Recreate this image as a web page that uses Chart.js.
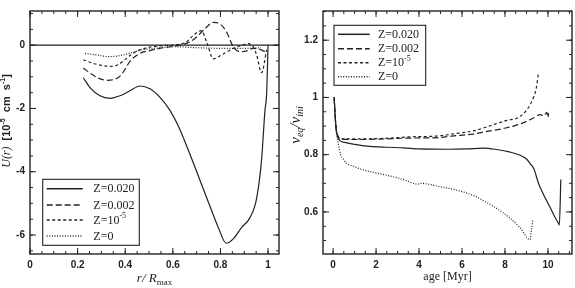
<!DOCTYPE html>
<html>
<head>
<meta charset="utf-8">
<script src="https://cdn.jsdelivr.net/npm/chart.js@4.4.0/dist/chart.umd.min.js"></script>
<style>
  html, body { margin: 0; padding: 0; background: #fff; }
  #wrap { position: relative; width: 575px; height: 288px; }
  .pane { position: absolute; top: 0; height: 288px; }
  #leftPane { left: 0; width: 287px; }
  #rightPane { left: 287px; width: 288px; }
</style>
</head>
<body>
<div id="wrap">
  <div class="pane" id="leftPane"><canvas id="leftChart"></canvas></div>
  <div class="pane" id="rightPane"><canvas id="rightChart"></canvas></div>
</div>
<script>
// ---- left panel: U(r) vs r/Rmax ----
const rZ020 = [0.224, 0.252, 0.294, 0.336, 0.378, 0.42, 0.462, 0.504, 0.546, 0.588, 0.63, 0.672, 0.714, 0.756, 0.791, 0.824, 0.854, 0.889, 0.924, 0.952, 0.973, 0.987, 0.994, 1.0];
const uZ020 = [-1.03, -1.34, -1.60, -1.68, -1.60, -1.44, -1.29, -1.38, -1.65, -2.06, -2.67, -3.45, -4.27, -5.09, -5.76, -6.26, -6.12, -5.76, -5.45, -4.84, -3.6, -2.06, -1.54, 0];

const rZ002 = [0.224, 0.26, 0.29, 0.322, 0.35, 0.378, 0.40, 0.42, 0.462, 0.504, 0.546, 0.59, 0.63, 0.67, 0.70, 0.735, 0.77, 0.80, 0.826, 0.854, 0.882, 0.91, 0.938, 0.96, 0.987];
const uZ002 = [-0.72, -0.92, -1.05, -1.11, -1.09, -0.98, -0.75, -0.51, -0.26, -0.17, -0.10, -0.05, 0.0, 0.10, 0.26, 0.52, 0.72, 0.66, 0.41, -0.05, -0.21, -0.18, -0.10, -0.12, -0.2];

const rZ1e5 = [0.224, 0.26, 0.30, 0.336, 0.37, 0.406, 0.43, 0.462, 0.504, 0.546, 0.59, 0.63, 0.66, 0.686, 0.72, 0.742, 0.77, 0.805, 0.854, 0.89, 0.917, 0.94, 0.952, 0.973, 0.994];
const uZ1e5 = [-0.46, -0.56, -0.64, -0.67, -0.62, -0.41, -0.27, -0.15, -0.06, -0.02, 0.0, 0.03, 0.12, 0.31, 0.46, 0.10, -0.43, -0.31, -0.10, 0.0, 0.05, -0.08, -0.31, -0.87, -0.15];

const rZ0 = [0.231, 0.28, 0.329, 0.37, 0.40, 0.435, 0.469, 0.52, 0.56, 0.609, 0.70, 0.80, 0.90, 0.97];
const uZ0 = [-0.26, -0.31, -0.36, -0.34, -0.29, -0.22, -0.15, -0.10, -0.07, -0.05, -0.08, -0.10, -0.10, -0.08];

// ---- right panel: v_eq/v_ini vs age ----
const ageZ020 = [0.05, 0.1, 0.16, 0.23, 0.31, 0.6, 1.0, 1.71, 2.5, 3.27, 4.04, 5.36, 6.2, 7.0, 7.62, 8.2, 8.71, 9.0, 9.17, 9.35, 9.56, 9.8, 10.1, 10.3, 10.49, 10.53, 10.6];
const vZ020 = [1.0, 0.93, 0.88, 0.86, 0.849, 0.842, 0.836, 0.829, 0.826, 0.824, 0.82, 0.819, 0.82, 0.823, 0.818, 0.81, 0.798, 0.785, 0.769, 0.75, 0.70, 0.66, 0.616, 0.585, 0.56, 0.554, 0.713];

const ageZ002 = [0.05, 0.1, 0.16, 0.23, 0.31, 1.0, 2.41, 3.5, 4.98, 5.52, 6.53, 7.07, 8.09, 8.6, 9.02, 9.3, 9.64, 9.8, 9.95, 10.0, 10.03];
const vZ002 = [1.0, 0.93, 0.88, 0.865, 0.855, 0.853, 0.855, 0.858, 0.86, 0.865, 0.872, 0.88, 0.894, 0.905, 0.917, 0.927, 0.94, 0.935, 0.948, 0.93, 0.945];

const ageZ1e5 = [0.05, 0.1, 0.16, 0.23, 0.31, 1.0, 2.41, 3.5, 4.98, 5.52, 6.53, 7.07, 8.09, 8.63, 9.02, 9.33, 9.45, 9.56];
const vZ1e5 = [1.0, 0.93, 0.88, 0.865, 0.855, 0.855, 0.857, 0.862, 0.866, 0.872, 0.883, 0.895, 0.92, 0.93, 0.957, 1.0, 1.03, 1.085];

const ageZ0 = [0.05, 0.1, 0.16, 0.23, 0.35, 0.47, 0.62, 0.86, 1.2, 1.71, 2.5, 3.2, 3.96, 4.04, 5.0, 5.91, 6.6, 7.15, 7.7, 8.24, 8.7, 9.17, 9.22, 9.3];
const vZ0 = [1.0, 0.93, 0.87, 0.843, 0.80, 0.785, 0.77, 0.762, 0.752, 0.741, 0.728, 0.715, 0.697, 0.70, 0.688, 0.673, 0.655, 0.633, 0.608, 0.578, 0.545, 0.503, 0.53, 0.574];

const seriesLabels = ['Z=0.020', 'Z=0.002', 'Z=10^{-5}', 'Z=0'];

const ink = '#222';
const styles = [
  { borderDash: [] },
  { borderDash: [6, 3] },
  { borderDash: [3, 2.5] },
  { borderDash: [1, 1.6] }
];

function pts(xs, ys) { return xs.map((x, i) => ({ x: x, y: ys[i] })); }

function makeSets(pairs) {
  return pairs.map((p, i) => ({
    label: seriesLabels[i],
    data: pts(p[0], p[1]),
    borderColor: ink,
    borderWidth: 1.2,
    borderDash: styles[i].borderDash,
    pointRadius: 0,
    fill: false,
    showLine: true,
    cubicInterpolationMode: 'monotone'
  }));
}

// tiny rich text: ^{..} superscript, _{..} subscript
function parseRich(str) {
  const out = [];
  const re = /([\^_])\{([^}]*)\}/g;
  let last = 0, m;
  while ((m = re.exec(str))) {
    if (m.index > last) out.push({ t: str.slice(last, m.index), mode: '' });
    out.push({ t: m[2], mode: m[1] });
    last = re.lastIndex;
  }
  if (last < str.length) out.push({ t: str.slice(last), mode: '' });
  return out;
}

function drawRich(ctx, segs, x, y, align) {
  // segs: [{text, family, size, style, weight}]
  const parts = [];
  segs.forEach(s => parseRich(s.text).forEach(p => parts.push(Object.assign({}, p, { s: s }))));
  const fontFor = p => {
    const sz = p.mode ? Math.round(p.s.size * 0.68) : p.s.size;
    return (p.s.style || 'normal') + ' ' + (p.s.weight || 'normal') + ' ' + sz + 'px ' + p.s.family;
  };
  let w = 0;
  parts.forEach(p => { ctx.font = fontFor(p); p.w = ctx.measureText(p.t).width; w += p.w; });
  let cx = align === 'center' ? x - w / 2 : x;
  ctx.textAlign = 'left';
  ctx.textBaseline = 'middle';
  parts.forEach(p => {
    ctx.font = fontFor(p);
    const dy = p.mode === '^' ? -p.s.size * 0.38 : (p.mode === '_' ? p.s.size * 0.3 : 0);
    ctx.fillText(p.t, cx, y + dy);
    cx += p.w;
  });
}

const panelPlugin = {
  id: 'panel',
  afterDatasetsDraw(chart, args, o) {
    const ctx = chart.ctx;
    const a = chart.chartArea;
    const xs = chart.scales.x, ys = chart.scales.y;
    ctx.save();
    ctx.strokeStyle = ink;
    ctx.fillStyle = ink;

    if (o.zeroLine) {
      const y0 = ys.getPixelForValue(0);
      ctx.lineWidth = 1.2;
      ctx.setLineDash([]);
      ctx.beginPath(); ctx.moveTo(a.left, y0); ctx.lineTo(a.right, y0); ctx.stroke();
    }

    // frame
    ctx.lineWidth = 1.4;
    ctx.setLineDash([]);
    ctx.strokeRect(a.left, a.top, a.right - a.left, a.bottom - a.top);

    // inward ticks on all four sides
    ctx.lineWidth = 1;
    const major = 6, minor = 3;
    const tickX = (v, len) => {
      const px = xs.getPixelForValue(v);
      ctx.beginPath();
      ctx.moveTo(px, a.bottom); ctx.lineTo(px, a.bottom - len);
      ctx.moveTo(px, a.top); ctx.lineTo(px, a.top + len);
      ctx.stroke();
    };
    const tickY = (v, len) => {
      const py = ys.getPixelForValue(v);
      ctx.beginPath();
      ctx.moveTo(a.left, py); ctx.lineTo(a.left + len, py);
      ctx.moveTo(a.right, py); ctx.lineTo(a.right - len, py);
      ctx.stroke();
    };
    for (let v = Math.ceil(xs.min / o.xMinor) * o.xMinor; v <= xs.max + 1e-9; v += o.xMinor) tickX(v, minor);
    for (let v = Math.ceil(ys.min / o.yMinor) * o.yMinor; v <= ys.max + 1e-9; v += o.yMinor) tickY(v, minor);
    xs.ticks.forEach(t => tickX(t.value, major));
    ys.ticks.forEach(t => tickY(t.value, major));

    // legend box
    const L = o.legend;
    const bx = a.left + L.x, by = a.top + L.y;
    ctx.fillStyle = '#fff';
    ctx.fillRect(bx, by, L.w, L.h);
    ctx.lineWidth = 1.1;
    ctx.strokeRect(bx, by, L.w, L.h);
    ctx.fillStyle = ink;
    chart.data.datasets.forEach((ds, i) => {
      const ry = by + L.rows[i];
      ctx.setLineDash(ds.borderDash || []);
      ctx.lineWidth = L.lineWidth;
      ctx.beginPath(); ctx.moveTo(bx + L.line0, ry); ctx.lineTo(bx + L.line1, ry); ctx.stroke();
      ctx.setLineDash([]);
      drawRich(ctx, [{ text: ds.label, family: '"Liberation Serif", serif', size: 12 }], bx + L.textX, ry + 0.5, 'left');
    });

    // axis titles
    const cxm = (a.left + a.right) / 2;
    drawRich(ctx, o.xTitle.segs, cxm, o.xTitle.y, 'center');
    ctx.translate(o.yTitle.x, o.yTitle.y);
    ctx.rotate(-Math.PI / 2);
    drawRich(ctx, o.yTitle.segs, 0, 0, 'center');
    ctx.restore();
  }
};

const tickFont = { family: '"Liberation Sans", Arial, sans-serif', size: 10, weight: 'bold' };
const fmt = v => String(Math.round(v * 1000) / 1000);

function baseOptions(cfg) {
  return {
    responsive: true,
    maintainAspectRatio: false,
    animation: false,
    devicePixelRatio: 1,
    layout: { padding: { top: 5, right: cfg.padRight, left: 0, bottom: 0 } },
    plugins: {
      legend: { display: false },
      tooltip: { enabled: false },
      panel: cfg.panel
    },
    scales: {
      x: {
        type: 'linear', min: cfg.xMin, max: cfg.xMax,
        grid: { display: false, drawTicks: false },
        border: { display: false },
        ticks: { stepSize: cfg.xStep, includeBounds: false, padding: 5, color: ink, font: tickFont, maxRotation: 0, callback: fmt },
        afterFit(s) { s.height = 34; }
      },
      y: {
        type: 'linear', min: cfg.yMin, max: cfg.yMax,
        grid: { display: false, drawTicks: false },
        border: { display: false },
        ticks: { stepSize: cfg.yStep, includeBounds: false, padding: 5, color: ink, font: tickFont, callback: fmt },
        afterFit(s) { s.width = cfg.yWidth; }
      }
    }
  };
}

new Chart(document.getElementById('leftChart'), {
  type: 'scatter',
  data: { datasets: makeSets([[rZ020, uZ020], [rZ002, uZ002], [rZ1e5, uZ1e5], [rZ0, uZ0]]) },
  plugins: [panelPlugin],
  options: baseOptions({
    xMin: 0, xMax: 1.046, xStep: 0.2,
    yMin: -6.6, yMax: 1.08, yStep: 2,
    yWidth: 30, padRight: 8,
    panel: {
      zeroLine: true, xMinor: 0.05, yMinor: 0.5,
      legend: { x: 12.7, y: 168.3, w: 96.6, h: 66, rows: [9.4, 25.7, 40.7, 56.7], line0: 4, line1: 40, textX: 50.6, lineWidth: 1.5 },
      xTitle: { y: 279, segs: [
        { text: 'r/ R', family: '"Liberation Serif", serif', size: 13, style: 'italic' },
        { text: '_{max}', family: '"Liberation Serif", serif', size: 13 }
      ] },
      yTitle: { x: 7, y: 121, segs: [
        { text: 'U(r)  ', family: '"Liberation Serif", serif', size: 12, style: 'italic' },
        { text: '[10^{-5}  cm  s^{-1}]', family: '"Liberation Sans", sans-serif', size: 11, weight: 'bold' }
      ] }
    }
  })
});

new Chart(document.getElementById('rightChart'), {
  type: 'scatter',
  data: { datasets: makeSets([[ageZ020, vZ020], [ageZ002, vZ002], [ageZ1e5, vZ1e5], [ageZ0, vZ0]]) },
  plugins: [panelPlugin],
  options: baseOptions({
    xMin: -0.47, xMax: 11.12, xStep: 2,
    yMin: 0.453, yMax: 1.302, yStep: 0.2,
    yWidth: 36, padRight: 3,
    panel: {
      zeroLine: false, xMinor: 0.5, yMinor: 0.05,
      legend: { x: 11, y: 14.3, w: 91.7, h: 60, rows: [9, 23.4, 37.4, 51.4], line0: 4, line1: 35.7, textX: 44, lineWidth: 1.5 },
      xTitle: { y: 277, segs: [
        { text: 'age [Myr]', family: '"Liberation Serif", serif', size: 12 }
      ] },
      yTitle: { x: 9, y: 125, segs: [
        { text: 'v_{eq}/v_{ini}', family: '"Liberation Serif", serif', size: 15, style: 'italic' }
      ] }
    }
  })
});
</script>
</body>
</html>
